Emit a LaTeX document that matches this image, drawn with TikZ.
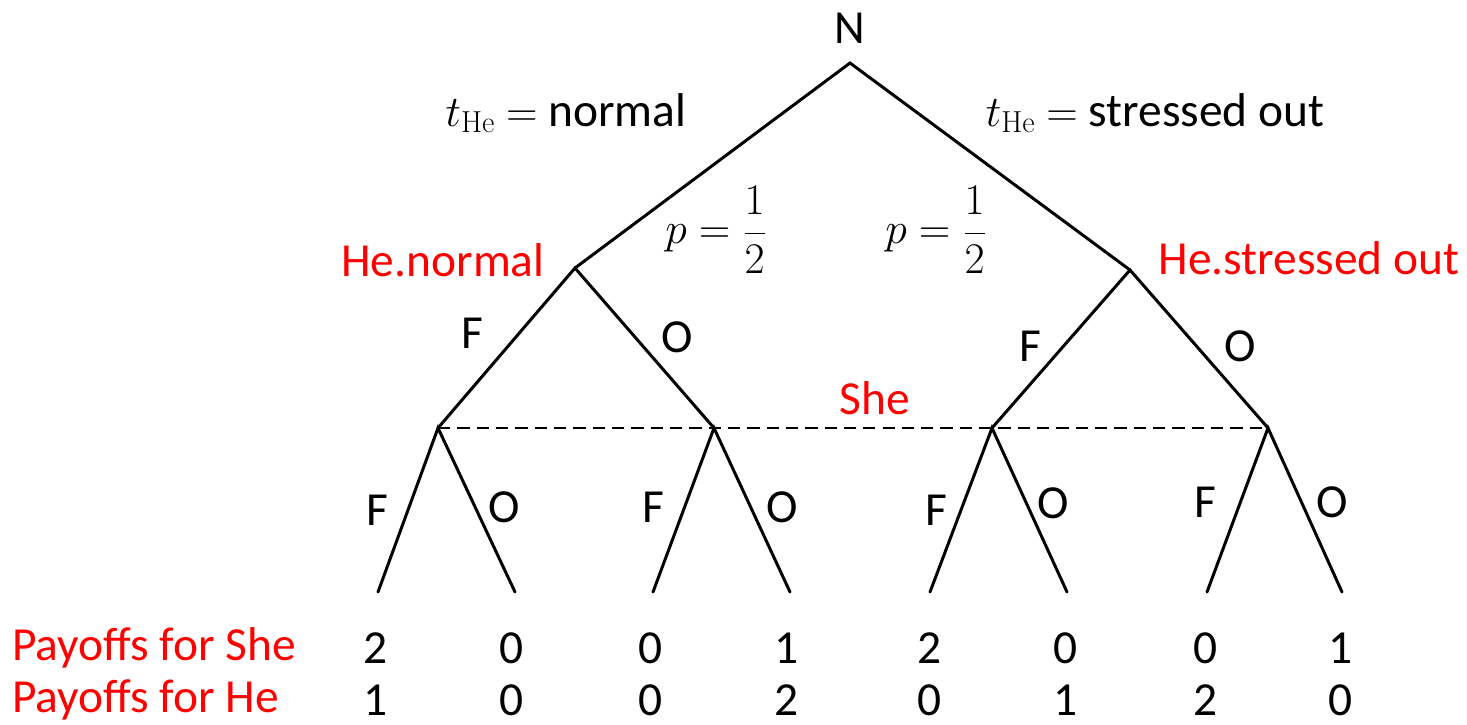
\documentclass[tikz,border=0pt]{standalone}
\usepackage[no-math]{fontspec}
\setmainfont{Carlito}
\begin{document}
\begin{tikzpicture}[x=0.02cm,y=-0.02cm,
  every node/.style={font=\fontsize{27}{32}\selectfont, inner sep=0pt},
  br/.style={line width=1.7pt, line cap=round},
  lbl/.style={text=black},
  redlbl/.style={text=red},
  info/.style={line width=1.5pt, dash pattern=on 7pt off 4pt},
  mathlbl/.style={font=\fontsize{24.88}{30}\selectfont}]
\useasboundingbox (0,0) rectangle (1467,724);
% decision nodes
\coordinate (root) at (850,63);
\coordinate (hn) at (575,268);
\coordinate (hs) at (1130,270);
\coordinate (s1) at (438,428);
\coordinate (s2) at (714,428);
\coordinate (s3) at (992,428);
\coordinate (s4) at (1268,428);
\coordinate (l1) at (378,592);
\coordinate (l2) at (515,592);
\coordinate (l3) at (653,592);
\coordinate (l4) at (790,592);
\coordinate (l5) at (930,592);
\coordinate (l6) at (1067,592);
\coordinate (l7) at (1207,592);
\coordinate (l8) at (1342,592);
% branches
\draw[br] (hn) -- (root) -- (hs);
\draw[br] (s1) -- (hn) -- (s2);
\draw[br] (s3) -- (hs) -- (s4);
\draw[br] (l1) -- (s1) -- (l2);
\draw[br] (l3) -- (s2) -- (l4);
\draw[br] (l5) -- (s3) -- (l6);
\draw[br] (l7) -- (s4) -- (l8);
\draw[info] (s1) -- (s4);
% labels
\node[lbl] (nN) at (850,28) {N};
\node[lbl] (tn) at (566,113) {$t_{\mathrm{He}}$ $=$ normal};
\node[lbl] (ts) at (1155,113) {$t_{\mathrm{He}}$ $=$ stressed out};
\node[mathlbl] (p1) at (716,230) {$\displaystyle p=\frac{1}{2}$};
\node[mathlbl] (p2) at (936,230) {$\displaystyle p=\frac{1}{2}$};
\node[redlbl] (lhn) at (443,260) {He.normal};
\node[redlbl] (lhs) at (1309,258) {He.stressed out};
\node[lbl] (f1) at (472,333) {F};
\node[lbl] (o1) at (677,337) {O};
\node[lbl] (f2) at (1030,346) {F};
\node[lbl] (o2) at (1240,346) {O};
\node[redlbl] (she) at (875,398) {She};
\node[lbl] (a1) at (377,510) {F};
\node[lbl] (a2) at (504,507) {O};
\node[lbl] (a3) at (653,507) {F};
\node[lbl] (a4) at (782,507) {O};
\node[lbl] (a5) at (936,510) {F};
\node[lbl] (a6) at (1053,503) {O};
\node[lbl] (a7) at (1205,502) {F};
\node[lbl] (a8) at (1332,502) {O};
% payoffs
\node[redlbl, anchor=west] (ps) at (12,648) {Payoffs for She};
\node[redlbl, anchor=west] (ph) at (12,700) {Payoffs for He};
\foreach \x/\a/\b [count=\i] in {376/2/1, 512/0/0, 651/0/0, 787/1/2, 930/2/0, 1066/0/1, 1206/0/2, 1341/1/0}{
  \node[lbl] (pa\i) at (\x,648) {\a};
  \node[lbl] (pb\i) at (\x,700) {\b};
}
\end{tikzpicture}
\end{document}
